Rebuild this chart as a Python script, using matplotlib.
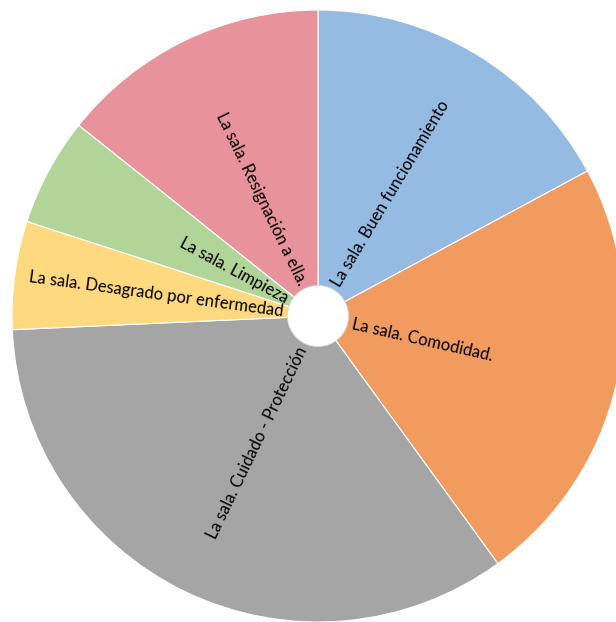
import numpy as np
import matplotlib
matplotlib.use("Agg")
import matplotlib.pyplot as plt

labels = [
    "La sala. Buen funcionamiento",
    "La sala. Comodidad.",
    "La sala. Cuidado - Protección",
    "La sala. Desagrado por enfermedad",
    "La sala. Limpieza",
    "La sala. Resignación a ella.",
]
counts = [6, 8, 12, 2, 2, 5]
colors = ["#95BBE3", "#F29B5E", "#A5A5A5", "#FFD97F", "#B1D498", "#E8939B"]

plt.rcParams["font.family"] = ["Lato", "DejaVu Sans"]

W, H = 616, 622
fig = plt.figure(figsize=(W / 100, H / 100), dpi=100)
cx, cy, r = 318, 316, 306
ax = fig.add_axes([(cx - r) / W, (H - cy - r) / H, 2 * r / W, 2 * r / H])

wedges, _ = ax.pie(
    counts,
    colors=colors,
    startangle=90,
    counterclock=False,
    radius=1.0,
    wedgeprops=dict(edgecolor="white", linewidth=0.8),
)
ax.add_patch(plt.Circle((0, 0), 0.1, facecolor="white", edgecolor="#D8D8D8", linewidth=0.6, zorder=5))

# radial labels, starting just outside the hole
r0 = 0.115
for w, lab in zip(wedges, labels):
    mid = np.deg2rad((w.theta1 + w.theta2) / 2)
    deg = np.rad2deg(mid) % 360
    x, y = r0 * np.cos(mid), r0 * np.sin(mid)
    if 90 < deg < 270:
        rot, ha = deg - 180, "right"
    else:
        rot, ha = deg if deg <= 90 else deg - 360, "left"
    ax.text(x, y, lab, rotation=rot, rotation_mode="anchor", ha=ha, va="center",
            fontsize=12, color="black", zorder=6)

ax.set_xlim(-1, 1)
ax.set_ylim(-1, 1)
ax.set_aspect("equal")
ax.axis("off")

fig.savefig("out.png", dpi=100, facecolor="white")
